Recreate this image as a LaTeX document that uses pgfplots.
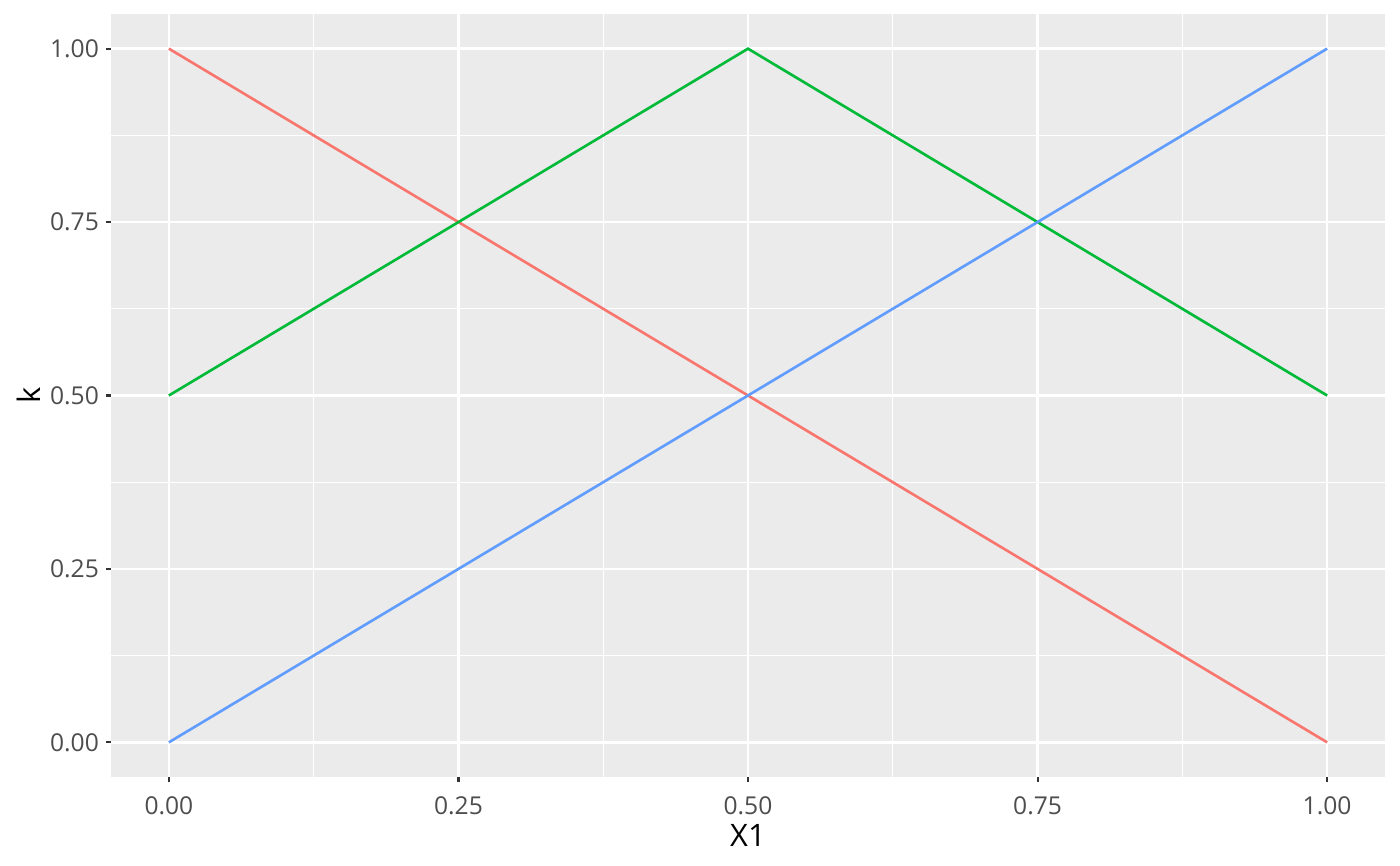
\documentclass[border=0pt]{standalone}
\usepackage{pgfplots}
\pgfplotsset{compat=1.18}
\usepackage{fontspec}
\setmainfont{Open Sans}
\definecolor{panelbg}{HTML}{EBEBEB}
\definecolor{ticktext}{HTML}{4D4D4D}
\definecolor{tickmark}{HTML}{333333}
\definecolor{redline}{HTML}{F8766D}
\definecolor{greenline}{HTML}{00BA38}
\definecolor{blueline}{HTML}{619CFF}
\begin{document}
\begin{tikzpicture}
\useasboundingbox (0,0) rectangle (14cm,8.66cm);
\begin{axis}[
    at={(1.11cm,0.89cm)}, anchor=south west,
    scale only axis,
    width=12.74cm, height=7.63cm,
    xmin=-0.05, xmax=1.05, ymin=-0.05, ymax=1.05,
    axis background/.style={fill=panelbg},
    axis line style={draw=none},
    xtick={0,0.25,0.5,0.75,1},
    ytick={0,0.25,0.5,0.75,1},
    minor xtick={0.125,0.375,0.625,0.875},
    minor ytick={0.125,0.375,0.625,0.875},
    xticklabels={0.00,0.25,0.50,0.75,1.00},
    yticklabels={0.00,0.25,0.50,0.75,1.00},
    grid=both,
    major grid style={white, line width=0.75pt},
    minor grid style={white, line width=0.35pt},
    tick align=outside,
    major tick length=0.05cm,
    minor tick length=0pt,
    tick style={tickmark, line width=0.6pt},
    xtick pos=bottom, ytick pos=left,
    ticklabel style={font=\fontsize{7}{8}\selectfont, text=ticktext},
    xticklabel style={yshift=-0.5pt},
    yticklabel style={xshift=1.5pt},
    label style={font=\fontsize{8.8}{10}\selectfont},
    xlabel={X1}, ylabel={k},
    xlabel style={yshift=4pt},
    ylabel style={yshift=-4pt},
    /pgf/number format/assume math mode=true,
]
\addplot[redline, line width=0.75pt] coordinates {(0,1) (0.5,0.5) (1,0)};
\addplot[greenline, line width=0.75pt] coordinates {(0,0.5) (0.5,1) (1,0.5)};
\addplot[blueline, line width=0.75pt] coordinates {(0,0) (0.5,0.5) (1,1)};
\end{axis}
\end{tikzpicture}
\end{document}
